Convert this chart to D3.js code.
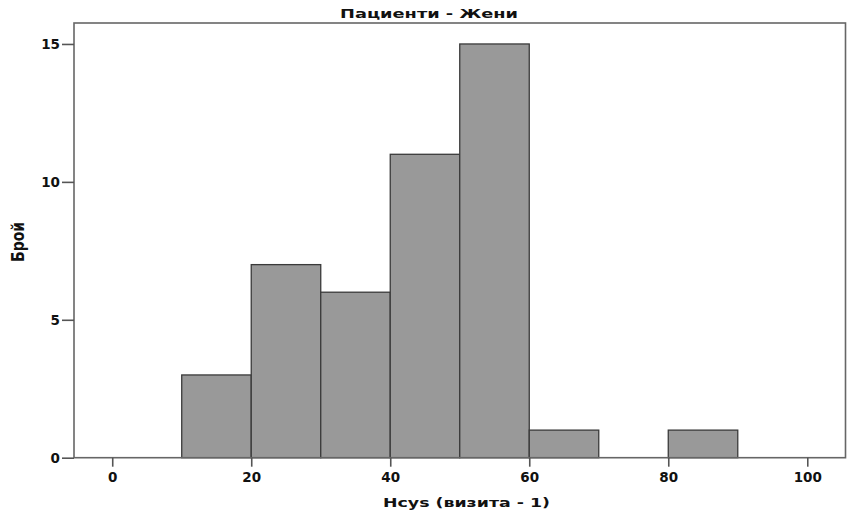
<!DOCTYPE html>
<html><head><meta charset="utf-8">
<script src="https://cdn.jsdelivr.net/npm/d3@7"></script>
<style>body{margin:0;background:#fff;} text{font-family:"DejaVu Sans",Verdana,sans-serif;font-weight:bold;}</style>
</head><body>
<svg id="c" width="849" height="518"></svg>
<script>
const binStarts = [10, 20, 30, 40, 50, 60, 80];
const binEnds   = [20, 30, 40, 50, 60, 70, 90];
const counts    = [3, 7, 6, 11, 15, 1, 1];
const xTicks = [0, 20, 40, 60, 80, 100];
const yTicks = [0, 5, 10, 15];
const title = "Пациенти - Жени";
const xLabel = "Hcys (визита - 1)";
const yLabel = "Брой";

const svg = d3.select("#c");
const L = 74, T = 23, R = 845.5, B = 457.7;
const x = d3.scaleLinear().domain([-5.5, 105.5]).range([L, R]);
const y = d3.scaleLinear().domain([0, 15.76]).range([B, T]);

// bars
svg.append("g").selectAll("rect").data(counts).join("rect")
  .attr("x", (d,i) => x(binStarts[i]))
  .attr("y", d => y(d))
  .attr("width", (d,i) => x(binEnds[i]) - x(binStarts[i]))
  .attr("height", d => y(0) - y(d))
  .attr("fill", "#999999")
  .attr("stroke", "#3a3a3a")
  .attr("stroke-width", 1.3);

// frame
svg.append("rect").attr("x", L).attr("y", T).attr("width", R-L).attr("height", B-T)
  .attr("fill", "none").attr("stroke", "#666").attr("stroke-width", 1.6);

// axes
const xAxis = d3.axisBottom(x).tickValues(xTicks).tickSize(9).tickPadding(4).tickFormat(d3.format("d"));
const gx = svg.append("g").attr("transform", `translate(0,${B})`).call(xAxis);
gx.select(".domain").remove();
gx.selectAll("line").attr("stroke", "#555").attr("stroke-width", 1.6);
gx.selectAll("text").attr("font-size", 13.5).attr("fill", "#111").attr("dy", "1.8em").attr("y", 0);

const yAxis = d3.axisLeft(y).tickValues(yTicks).tickSize(12).tickPadding(2).tickFormat(d3.format("d"));
const gy = svg.append("g").attr("transform", `translate(${L},0)`).call(yAxis);
gy.select(".domain").remove();
gy.selectAll("line").attr("stroke", "#555").attr("stroke-width", 1.6);
gy.selectAll("text").attr("font-size", 13.5).attr("fill", "#111");

// labels
svg.append("text").attr("x", 429).attr("y", 18).attr("text-anchor", "middle")
  .attr("font-size", 13).attr("fill", "#111")
  .attr("textLength", 178).attr("lengthAdjust", "spacingAndGlyphs").text(title);
svg.append("text").attr("x", 466.5).attr("y", 507).attr("text-anchor", "middle")
  .attr("font-size", 13).attr("fill", "#111")
  .attr("textLength", 167).attr("lengthAdjust", "spacingAndGlyphs").text(xLabel);
svg.append("text").attr("transform", "translate(24,242) rotate(-90) scale(1,1.4)").attr("text-anchor", "middle")
  .attr("font-size", 13).attr("fill", "#111")
  .attr("textLength", 40).attr("lengthAdjust", "spacingAndGlyphs").text(yLabel);
</script>
</body></html>
